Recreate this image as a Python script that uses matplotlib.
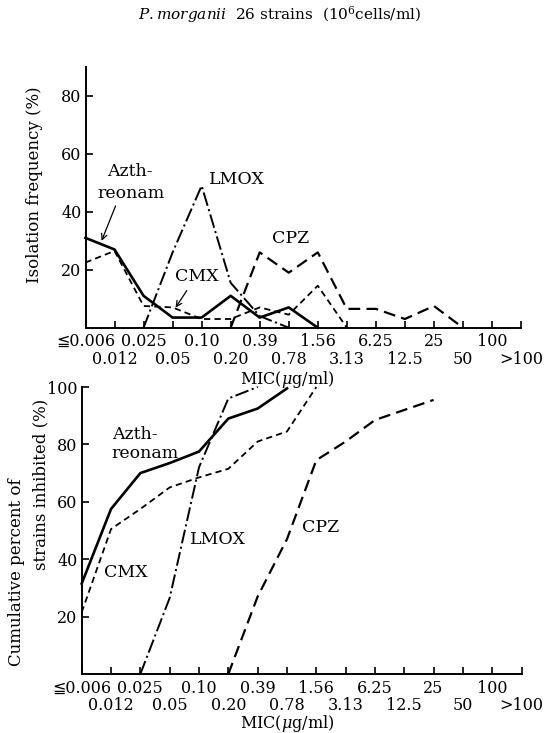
import numpy as np
import matplotlib.pyplot as plt

plt.rcParams['font.family'] = ['DejaVu Serif', 'DejaVu Sans']
plt.rcParams['mathtext.fontset'] = 'dejavuserif'
plt.rcParams['lines.scale_dashes'] = False

# MIC categories (ug/ml)
mic_labels = ['≦0.006', '0.012', '0.025', '0.05', '0.10', '0.20', '0.39', '0.78',
              '1.56', '3.13', '6.25', '12.5', '25', '50', '100', '>100']

# isolation frequency (%) -- x given as index into mic_labels
azt_x = [0, 1, 2, 3, 4, 5, 6, 7, 8]
azt_freq = [31, 27, 11, 3.5, 3.5, 11, 3.5, 7, 0]
cmx_x = [0, 1, 2, 3, 4, 5, 6, 7, 8, 9]
cmx_freq = [22.5, 26.5, 7.5, 7, 3, 3, 7, 4.5, 14.5, 0]
lmox_x = [2, 3, 4, 5, 6, 7]
lmox_freq = [0, 26, 49, 15.5, 4, 0]
cpz_x = [5, 6, 7, 8, 9, 10, 11, 12, 13]
cpz_freq = [0, 26, 19, 26, 6.5, 6.5, 3, 7.5, 0]

# cumulative percent of strains inhibited
azt_cx = [0, 1, 2, 3, 4, 5, 6, 7]
azt_cum = [31.5, 57.5, 70, 73.5, 77.5, 89, 92.5, 99.5]
cmx_cx = [0, 1, 2, 3, 4, 5, 6, 7, 8]
cmx_cum = [21.5, 50.5, 57.5, 65, 68.5, 71.5, 81, 84.5, 100]
lmox_cx = [2, 3, 4, 5, 6]
lmox_cum = [0, 26.5, 72, 96, 100]
cpz_cx = [5, 6, 7, 8, 9, 10, 11, 12]
cpz_cum = [0, 27, 47, 74.5, 81, 88.5, 92, 95.5]

styles = {
    'azt': dict(color='black', lw=1.9, ls='-'),
    'cmx': dict(color='black', lw=1.3, ls=(0, (4.5, 3))),
    'lmox': dict(color='black', lw=1.4, ls=(0, (10, 2.5, 1.5, 2.5))),
    'cpz': dict(color='black', lw=1.6, ls=(0, (8.5, 4.5))),
}

W, H = 548, 733
fig = plt.figure(figsize=(W / 100, H / 100), dpi=100)

def px_axes(l, t, r, b):
    return fig.add_axes([l / W, 1 - b / H, (r - l) / W, (b - t) / H])

ax1 = px_axes(85.5, 67, 521, 327.7)
ax2 = px_axes(81.7, 387, 521.6, 674)

idx = np.arange(len(mic_labels))
for ax in (ax1, ax2):
    ax.set_xlim(0, 15)
    # even categories on the upper row, odd ones one row lower
    ax.set_xticks(idx[::2])
    ax.set_xticklabels(mic_labels[::2])
    ax.set_xticks(idx[1::2], minor=True)
    ax.set_xticklabels(mic_labels[1::2], minor=True)
    ax.tick_params(axis='x', which='both', direction='in', length=5, width=1.2,
                   labelsize=11.5)
    ax.tick_params(axis='x', which='major', pad=4)
    ax.tick_params(axis='x', which='minor', pad=16.5)
    ax.tick_params(axis='y', direction='in', length=5, width=1.2,
                   labelsize=11.5, pad=3)
    for s in ('top', 'right'):
        ax.spines[s].set_visible(False)
    for s in ('left', 'bottom'):
        ax.spines[s].set_linewidth(1.4)
    ax.patch.set_alpha(0)

ax1.set_ylim(0, 90)
ax1.set_yticks([20, 40, 60, 80])
ax2.set_ylim(0, 100)
ax2.set_yticks([20, 40, 60, 80, 100])

# frequency curves
ax1.plot(cpz_x, cpz_freq, **styles['cpz'])
ax1.plot(lmox_x, lmox_freq, **styles['lmox'])
ax1.plot(cmx_x, cmx_freq, **styles['cmx'])
ax1.plot(azt_x, azt_freq, **styles['azt'])

# cumulative curves
ax2.plot(cpz_cx, cpz_cum, **styles['cpz'])
ax2.plot(lmox_cx, lmox_cum, **styles['lmox'])
ax2.plot(cmx_cx, cmx_cum, **styles['cmx'])
ax2.plot(azt_cx, azt_cum, **styles['azt'])

for ax in (ax1, ax2):
    for ln in ax.lines:
        ln.set_clip_on(False)

afs = 12.5
ax1.text(1.53, 53.8, 'Azth-', ha='center', va='center', fontsize=afs)
ax1.text(1.57, 46.2, 'reonam', ha='center', va='center', fontsize=afs)
ax1.annotate('', xy=(0.52, 29.1), xytext=(1.07, 42.9),
             arrowprops=dict(arrowstyle='->', lw=0.9, color='black'))
ax1.text(5.2, 51.3, 'LMOX', ha='center', va='center', fontsize=afs)
ax1.text(7.07, 30.9, 'CPZ', ha='center', va='center', fontsize=afs)
ax1.text(3.83, 17.6, 'CMX', ha='center', va='center', fontsize=afs)
ax1.annotate('', xy=(3.05, 6.1), xytext=(3.54, 13.6),
             arrowprops=dict(arrowstyle='->', lw=0.9, color='black'))

ax2.text(1.02, 83.4, 'Azth-', ha='left', va='center', fontsize=afs)
ax2.text(1.02, 77.0, 'reonam', ha='left', va='center', fontsize=afs)
ax2.text(1.51, 35.5, 'CMX', ha='center', va='center', fontsize=afs)
ax2.text(4.65, 46.7, 'LMOX', ha='center', va='center', fontsize=afs)
ax2.text(8.16, 50.9, 'CPZ', ha='center', va='center', fontsize=afs)

# axis titles
mic = r'MIC($\mu$g/ml)'
fig.text(287 / W, 1 - 379 / H, mic, ha='center', va='center', fontsize=11.5)
fig.text(287 / W, 1 - 724 / H, mic, ha='center', va='center', fontsize=11.5)
fig.text(35 / W, 1 - 185 / H, 'Isolation frequency (%)', rotation=90,
         ha='center', va='center', fontsize=12)
fig.text(17 / W, 1 - 572 / H, 'Cumulative percent of', rotation=90,
         ha='center', va='center', fontsize=12)
fig.text(41 / W, 1 - 484 / H, 'strains inhibited (%)', rotation=90,
         ha='center', va='center', fontsize=12)

fig.text(280 / W, 1 - 15 / H,
         r'$\mathit{P.morganii}$  26 strains  (10$^{6}$cells/ml)',
         ha='center', va='center', fontsize=11)

fig.savefig('out.png', dpi=100)
